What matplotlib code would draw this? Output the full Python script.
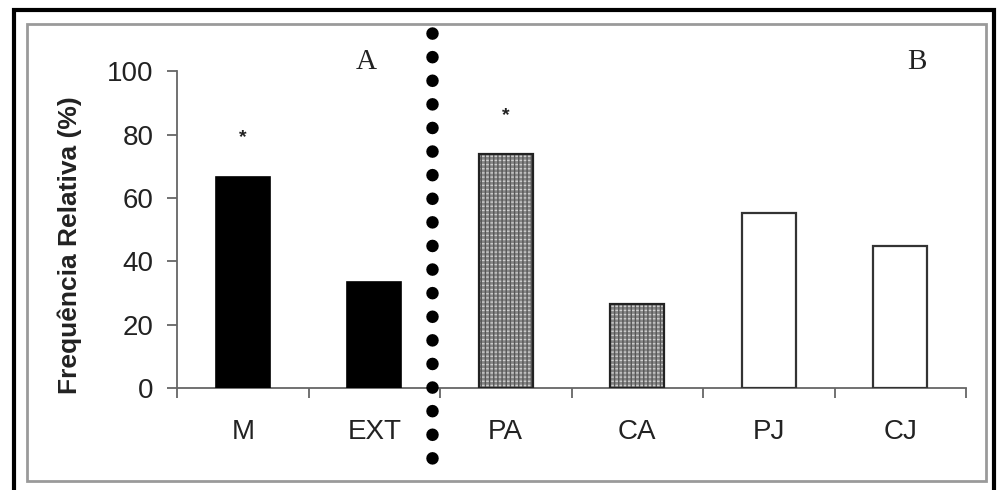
import matplotlib.pyplot as plt
from matplotlib.patches import Rectangle
from matplotlib.lines import Line2D

categorias = ["M", "EXT", "PA", "CA", "PJ", "CJ"]
frequencia = [66.7, 33.5, 73.8, 26.4, 55.2, 44.9]
estilo = ["preto", "preto", "trama", "trama", "branco", "branco"]
asteriscos = {0: 79, 2: 86}

W, H = 999, 490
fig = plt.figure(figsize=(W / 100, H / 100), dpi=100)

# eixos em pixels da imagem original
x0, x1 = 177, 966
y0, y100 = 388, 71.3
ax = fig.add_axes([x0 / W, 1 - y0 / H, (x1 - x0) / W, (y0 - y100) / H])

pos = list(range(len(categorias)))
larg = 0.41
for i, v in enumerate(frequencia):
    if estilo[i] == "preto":
        ax.bar(i, v, larg, color="black", edgecolor="black", lw=1.2, zorder=3)
    elif estilo[i] == "trama":
        ax.bar(i, v, larg, color="#858585", edgecolor="none", zorder=3)
        ax.bar(i, v, larg, fill=False, edgecolor="#d0d0d0", hatch="----", lw=0, zorder=4)
        ax.bar(i, v, larg, fill=False, edgecolor="#555555", hatch="||||", lw=0, zorder=4)
        ax.bar(i, v, larg, fill=False, edgecolor="#222222", lw=1.6, zorder=5)
    else:
        ax.bar(i, v, larg, color="white", edgecolor="#333333", lw=1.6, zorder=3)

for i, y in asteriscos.items():
    ax.text(i, y, "*", ha="center", va="center", fontsize=14, fontweight="bold",
            family="Liberation Sans", color="#222222")

ax.text(0.94, 103, "A", ha="center", va="center", fontsize=21,
        family="Liberation Serif", color="#222222", clip_on=False)
ax.text(5.13, 103, "B", ha="center", va="center", fontsize=21,
        family="Liberation Serif", color="#222222", clip_on=False)

ax.set_xlim(-0.5, len(categorias) - 0.5)
ax.set_ylim(0, 100)
ax.set_yticks([0, 20, 40, 60, 80, 100])
ax.set_xticks([i - 0.5 for i in range(len(categorias) + 1)])
ax.set_xticklabels([])
ax.set_xticks(pos, minor=True)
ax.set_xticklabels(categorias, minor=True)

cinza = "#666666"
for s in ["top", "right"]:
    ax.spines[s].set_visible(False)
for s in ["left", "bottom"]:
    ax.spines[s].set_color(cinza)
    ax.spines[s].set_linewidth(1.3)
ax.tick_params(axis="y", direction="out", length=7, width=1.3, color=cinza,
               pad=10, labelsize=20, labelcolor="#222222")
ax.tick_params(axis="x", which="major", direction="out", length=7, width=1.3,
               color=cinza)
ax.tick_params(axis="x", which="minor", length=0, pad=22, labelsize=20,
               labelcolor="#222222")
for lab in ax.get_yticklabels() + ax.get_xticklabels(minor=True):
    lab.set_family("Liberation Sans")

fig.text(70 / W, 1 - 245 / H, "Frequência Relativa (%)", rotation=90,
         ha="center", va="center", fontsize=19, fontweight="bold",
         family="Liberation Sans", color="#222222")

# linha pontilhada separando A e B
fig.add_artist(Line2D([432 / W, 432 / W], [1 - 33 / H, 1 - 468 / H],
                      transform=fig.transFigure, color="black", lw=9,
                      linestyle=(0, (0.01, 1.878)), dash_capstyle="round"))

# molduras
fig.patches.append(Rectangle((14 / W, -20 / H), (994 - 14) / W, (H - 10 + 20) / H,
                             transform=fig.transFigure, fill=False,
                             edgecolor="black", lw=3))
fig.patches.append(Rectangle((27 / W, 1 - 481 / H), (986 - 27) / W, (481 - 24) / H,
                             transform=fig.transFigure, fill=False,
                             edgecolor="#9a9a9a", lw=2))

fig.savefig("out.png", dpi=100)
